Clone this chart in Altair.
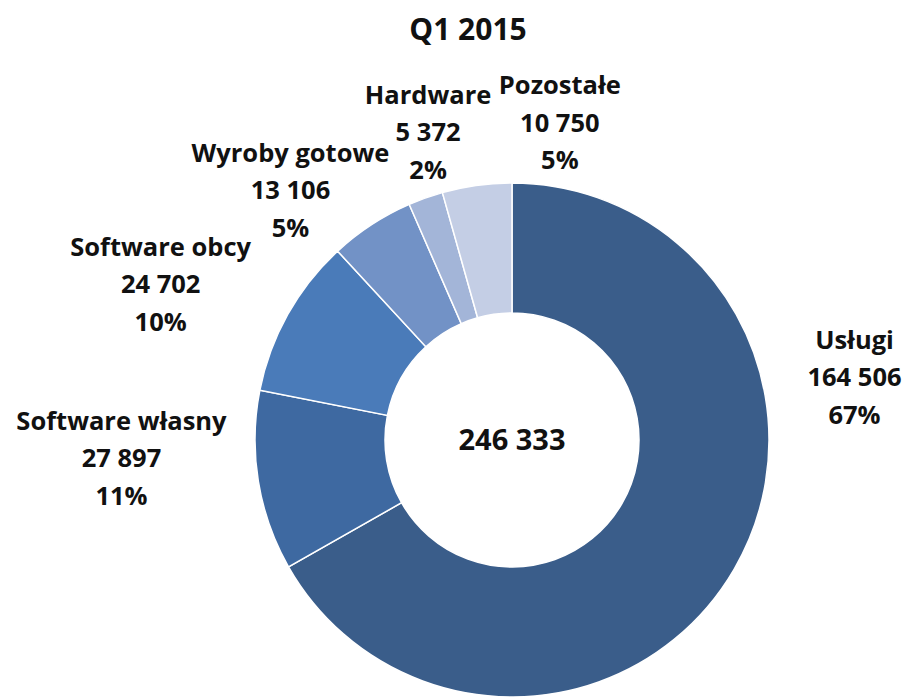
import math
import altair as alt
import pandas as pd

# Data
categories = ["Usługi", "Software własny", "Software obcy", "Wyroby gotowe", "Hardware", "Pozostałe"]
values = [164506, 27897, 24702, 13106, 5372, 10750]
percent_labels = ["67%", "11%", "10%", "5%", "2%", "5%"]
colors = ["#3A5D8A", "#3E69A1", "#4A7BB9", "#7292C6", "#A3B5D8", "#C4CEE5"]
chart_title = "Q1 2015"

# Label layout (angle in degrees from 12 o'clock, radius in px)
label_angle = [79.8, 267.2, 293.8, 318.3, 344.7, 8.6]
label_radius = [348, 391, 384, 333, 318, 320]

CX, CY = 499, 386
OUTER, INNER = 257, 127
FONT = "Open Sans"
LINE_H = 37.5


def fmt(v):
    return f"{v:,}".replace(",", " ")


df = pd.DataFrame({
    "category": categories,
    "value": values,
    "order": list(range(len(categories))),
    "label": [f"{c}\n{fmt(v)}\n{p}" for c, v, p in zip(categories, values, percent_labels)],
    "lab_theta": [math.radians(a) for a in label_angle],
    "lab_r": label_radius,
})

total_df = pd.DataFrame({"total": [fmt(sum(values))]})

arcs = alt.Chart(df).mark_arc(
    outerRadius=OUTER, innerRadius=INNER, stroke="white", strokeWidth=1.5
).encode(
    theta=alt.Theta("value:Q", stack=True),
    order=alt.Order("order:Q"),
    color=alt.Color("category:N", scale=alt.Scale(domain=categories, range=colors), legend=None),
    x=alt.value(CX),
    y=alt.value(CY),
)

labels = alt.Chart(df).mark_text(
    font=FONT, fontSize=25.5, fontWeight="bold", lineBreak="\n", lineHeight=LINE_H,
    align="center", baseline="middle", color="#111111", dy=-LINE_H
).encode(
    theta=alt.Theta("lab_theta:Q", scale=None),
    radius=alt.Radius("lab_r:Q", scale=None),
    text="label:N",
    x=alt.value(CX),
    y=alt.value(CY),
)

center = alt.Chart(total_df).mark_text(
    font=FONT, fontSize=29, fontWeight="bold", align="center", baseline="middle", color="#111111"
).encode(
    text="total:N",
    x=alt.value(CX),
    y=alt.value(CY + 1),
)

chart = alt.layer(arcs, labels, center).resolve_scale(theta="independent").properties(
    width=890,
    height=640,
    padding={"top": 8, "left": 5, "right": 5, "bottom": 5},
    title=alt.TitleParams(chart_title, font=FONT, fontSize=30, fontWeight="bold", color="#111111",
                          anchor="middle", dx=10, offset=8),
).configure_view(stroke=None)

chart.save("out.html", embed_options={"renderer": "svg", "actions": False})
